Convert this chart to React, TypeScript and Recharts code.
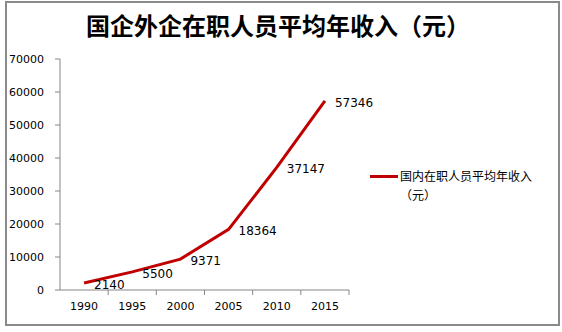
import React from 'react';
import { LineChart, Line, XAxis, YAxis, LabelList, Customized, usePlotArea } from 'recharts';

const years = ['1990', '1995', '2000', '2005', '2010', '2015'];
const income = [2140, 5500, 9371, 18364, 37147, 57346];
const yTicks = [0, 10000, 20000, 30000, 40000, 50000, 60000, 70000];
const seriesName = '国内在职人员平均年收入（元）';

const data = years.map((year, i) => ({ year, income: income[i] }));

const AXIS = '#868686';
const RED = '#C00000';
const FONT = '"DejaVu Sans", Verdana, sans-serif';

// Excel puts the category ticks between the categories, not under them
function BoundaryTicks() {
  const area = usePlotArea();
  if (!area) return null;
  const step = area.width / years.length;
  const bottom = area.y + area.height;
  return (
    <g>
      {Array.from({ length: years.length }, (_, i) => (
        <line
          key={i}
          x1={area.x + step * (i + 1)}
          x2={area.x + step * (i + 1)}
          y1={bottom}
          y2={bottom + 5}
          stroke={AXIS}
        />
      ))}
    </g>
  );
}

const ValueLabel = ({ x, y, value }: any) => (
  <text x={x + 10} y={y + 6} fontSize={12} fontFamily={FONT} fill="#000">
    {value}
  </text>
);

export default function App() {
  return (
    <div style={{ position: 'absolute', left: 0, top: 0, width: 562, height: 332, background: '#fff' }}>
      <div
        style={{
          position: 'absolute',
          left: 5,
          top: 1,
          width: 551,
          height: 321,
          border: '2px solid #8a8a8a',
        }}
      />
      <div
        style={{
          position: 'absolute',
          left: 0,
          top: 9,
          width: 556,
          textAlign: 'center',
          fontFamily: '"Noto Sans CJK SC", serif',
          fontSize: 24,
          fontWeight: 700,
          color: '#000',
          lineHeight: '32px',
        }}
      >
        国企外企在职人员平均年收入（元）
      </div>
      <div style={{ position: 'absolute', left: 0, top: 0 }}>
        <LineChart width={562} height={332} data={data} margin={{ top: 59, right: 213, bottom: 12, left: 5 }}>
          <XAxis
            dataKey="year"
            scale="band"
            stroke={AXIS}
            tickLine={false}
            tickSize={0}
            tickMargin={12}
            height={30}
            tick={{ fill: '#000', fontSize: 11, fontFamily: FONT }}
          />
          <YAxis
            domain={[0, 70000]}
            ticks={yTicks}
            width={55}
            stroke={AXIS}
            tickSize={5}
            tickMargin={11}
            interval={0}
            tick={{ fill: '#000', fontSize: 11, fontFamily: FONT }}
          />
          <Customized component={<BoundaryTicks />} />
          <Line
            dataKey="income"
            name={seriesName}
            stroke={RED}
            strokeWidth={3}
            dot={false}
            isAnimationActive={false}
          >
            <LabelList dataKey="income" content={<ValueLabel />} />
          </Line>
        </LineChart>
      </div>
      <div
        style={{
          position: 'absolute',
          left: 370,
          top: 166,
          display: 'flex',
          fontFamily: '"Noto Sans CJK SC", sans-serif',
          fontSize: 12,
          color: '#000',
        }}
      >
        <div style={{ width: 28, height: 3, background: RED, marginTop: 9, flexShrink: 0 }} />
        <div style={{ width: 150, lineHeight: '19px', marginLeft: 2 }}>{seriesName}</div>
      </div>
    </div>
  );
}
